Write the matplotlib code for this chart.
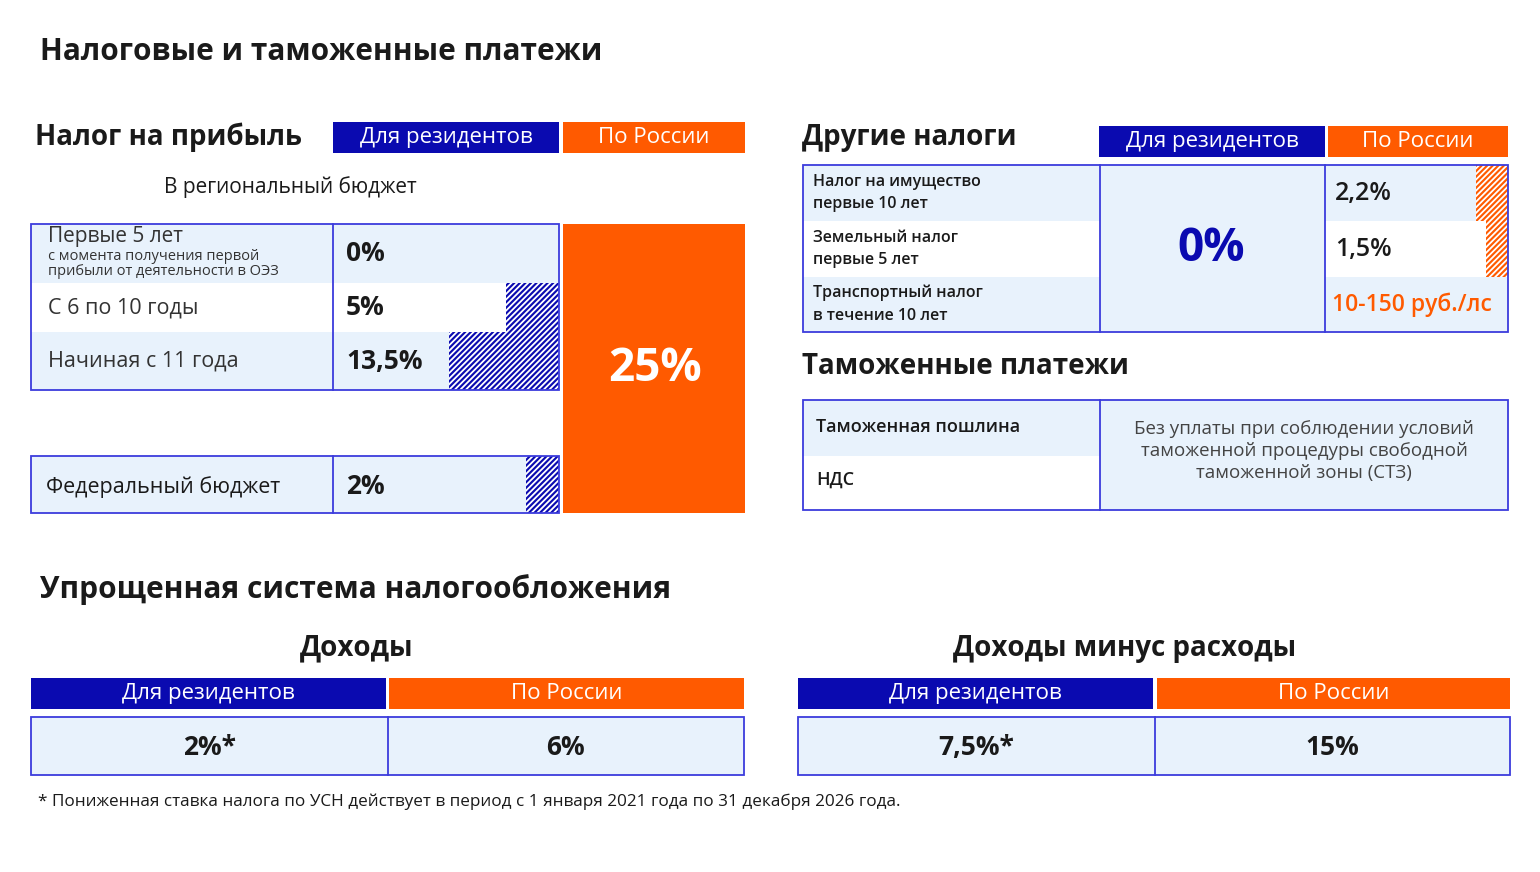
import matplotlib.pyplot as plt
from matplotlib.patches import Rectangle

plt.rcParams['font.family'] = 'Open Sans'
plt.rcParams['hatch.linewidth'] = 1.3

BLUE = '#0a0ab0'
ORANGE = '#ff5a00'
LIGHT = '#e8f2fc'
EDGE = '#3c3cdc'
DARK = '#1a1a1a'

# data
profit_rows = ['Первые 5 лет', 'С 6 по 10 годы', 'Начиная с 11 года']
profit_rates = [0.0, 5.0, 13.5]
profit_labels = ['0%', '5%', '13,5%']
federal_rate = 2.0
federal_label = '2%'
russia_profit = '25%'

other_taxes = ['Налог на имущество\nпервые 10 лет', 'Земельный налог\nпервые 5 лет',
               'Транспортный налог\nв течение 10 лет']
other_resident = '0%'
other_russia_rates = [2.2, 1.5, None]
other_russia_labels = ['2,2%', '1,5%', '10-150 руб./лс']

customs_items = ['Таможенная пошлина', 'НДС']
customs_text = 'Без уплаты при соблюдении условий\nтаможенной процедуры свободной\nтаможенной зоны (СТЗ)'

usn_titles = ['Доходы', 'Доходы минус расходы']
usn_title_x = [357, 1125]
usn_resident = ['2%*', '7,5%*']
usn_russia = ['6%', '15%']

fig = plt.figure(figsize=(15.4, 8.72), dpi=100)
ax = fig.add_axes([0, 0, 1, 1])
ax.set_xlim(0, 1540)
ax.set_ylim(872, 0)
ax.axis('off')


def rect(x0, y0, x1, y1, fc, ec='none', lw=0, hatch=None, z=1):
    ax.add_patch(Rectangle((x0, y0), x1 - x0, y1 - y0, facecolor=fc, edgecolor=ec,
                           linewidth=lw, hatch=hatch, zorder=z))


def frame(x0, y0, x1, y1, z=5):
    rect(x0, y0, x1, y1, 'none', EDGE, 1.3, z=z)


def header(x0, x1, y0, y1, text, fc, size=16):
    rect(x0, y0, x1, y1, fc)
    ax.text((x0 + x1) / 2, (y0 + y1) / 2, text, color='white', fontsize=size,
            ha='center', va='center', fontweight='medium')


ax.text(40, 52, 'Налоговые и таможенные платежи', fontsize=21.5, fontweight='bold',
        color=DARK, va='center')

# --- Налог на прибыль
ax.text(35, 137, 'Налог на прибыль', fontsize=20, fontweight='bold', color=DARK, va='center')
header(333, 559, 122, 153, 'Для резидентов', BLUE)
header(563, 745, 122, 153, 'По России', ORANGE)
ax.text(290, 187, 'В региональный бюджет', fontsize=15, color=DARK, ha='center', va='center')

row_y = [(224, 283), (283, 332), (332, 390)]
for i, (y0, y1) in enumerate(row_y):
    rect(31, y0, 559, y1, LIGHT if i != 1 else 'white')
    if profit_rates[i] > 0:
        w = 20 + 6.7 * profit_rates[i]
        rect(559 - w, y0, 559, y1, BLUE, 'white', 0, hatch='//////', z=2)
    ax.text(346, (y0 + y1) / 2, profit_labels[i], fontsize=19, fontweight='bold',
            color=DARK, va='center')
ax.text(48, 236, profit_rows[0], fontsize=15, color='#333333', va='center')
ax.text(48, 264, 'с момента получения первой\nприбыли от деятельности в ОЭЗ', fontsize=10.5,
        color='#333333', va='center', linespacing=1.0)
for i in (1, 2):
    ax.text(48, sum(row_y[i]) / 2, profit_rows[i], fontsize=15.5, color='#333333', va='center')
frame(31, 224, 559, 390)
ax.plot([333, 333], [224, 390], color=EDGE, lw=1.3, zorder=5)

rect(31, 456, 559, 513, LIGHT)
w = 20 + 6.7 * federal_rate
rect(559 - w, 456, 559, 513, BLUE, 'white', 0, hatch='//////', z=2)
ax.text(46, 487, 'Федеральный бюджет', fontsize=15.5, fontweight='medium', color=DARK, va='center')
ax.text(346, 486, federal_label, fontsize=19, fontweight='bold', color=DARK, va='center')
frame(31, 456, 559, 513)
ax.plot([333, 333], [456, 513], color=EDGE, lw=1.3, zorder=5)

rect(563, 224, 745, 513, ORANGE)
ax.text(655, 368, russia_profit, fontsize=33, fontweight='bold', color='white',
        ha='center', va='center')

# --- Другие налоги
ax.text(802, 137, 'Другие налоги', fontsize=20, fontweight='bold', color=DARK, va='center')
header(1099, 1325, 126, 157, 'Для резидентов', BLUE)
header(1328, 1508, 126, 157, 'По России', ORANGE)
orow = [(165, 221), (221, 277), (277, 332)]
for i, (y0, y1) in enumerate(orow):
    rect(803, y0, 1508, y1, LIGHT if i != 1 else 'white')
    ax.text(813, (y0 + y1) / 2, other_taxes[i], fontsize=11.5, fontweight='semibold',
            color=DARK, va='center', linespacing=1.55)
    r = other_russia_rates[i]
    if r is not None:
        rect(1508 - 14.5 * r, y0, 1508, y1, ORANGE, 'white', 0, hatch='//////', z=2)
        ax.text(1335, (y0 + y1) / 2, other_russia_labels[i], fontsize=18,
                fontweight='semibold', color=DARK, va='center')
    else:
        ax.text(1332, (y0 + y1) / 2, other_russia_labels[i], fontsize=16.5,
                fontweight='semibold', color=ORANGE, va='center')
rect(1100, 165, 1325, 332, LIGHT)
ax.text(1211, 248, other_resident, fontsize=33, fontweight='bold', color=BLUE,
        ha='center', va='center')
frame(803, 165, 1508, 332)
for x in (1100, 1325):
    ax.plot([x, x], [165, 332], color=EDGE, lw=1.3, zorder=5)

# --- Таможенные платежи
ax.text(802, 366, 'Таможенные платежи', fontsize=20, fontweight='bold', color=DARK, va='center')
rect(803, 400, 1100, 456, LIGHT)
rect(803, 456, 1100, 510, 'white')
rect(1100, 400, 1508, 510, LIGHT)
ax.text(816, 427, customs_items[0], fontsize=13, fontweight='semibold', color=DARK, va='center')
ax.text(816, 480, customs_items[1], fontsize=13, fontweight='semibold', color=DARK, va='center')
ax.text(1304, 451, customs_text, fontsize=13.5, color='#444444', ha='center', va='center',
        linespacing=1.3)
frame(803, 400, 1508, 510)
ax.plot([1100, 1100], [400, 510], color=EDGE, lw=1.3, zorder=5)

# --- УСН
ax.text(40, 590, 'Упрощенная система налогообложения', fontsize=21.5, fontweight='bold',
        color=DARK, va='center')
blocks = [(31, 386, 389, 744), (798, 1153, 1157, 1510)]
for k, (b0, b1, o0, o1) in enumerate(blocks):
    ax.text(usn_title_x[k], 648, usn_titles[k], fontsize=20, fontweight='bold', color=DARK,
            ha='center', va='center')
    header(b0, b1, 678, 709, 'Для резидентов', BLUE)
    header(o0, o1, 678, 709, 'По России', ORANGE)
    mid = (b1 + o0) / 2
    rect(b0, 717, o1, 775, LIGHT)
    frame(b0, 717, o1, 775)
    ax.plot([mid, mid], [717, 775], color=EDGE, lw=1.3, zorder=5)
    ax.text((b0 + mid) / 2, 747, usn_resident[k], fontsize=19, fontweight='bold', color=DARK,
            ha='center', va='center')
    ax.text((mid + o1) / 2, 747, usn_russia[k], fontsize=19, fontweight='bold', color=DARK,
            ha='center', va='center')

ax.text(38, 802, '* Пониженная ставка налога по УСН действует в период с 1 января 2021 года '
        'по 31 декабря 2026 года.', fontsize=12.3, fontweight='medium', color=DARK, va='center')

fig.savefig('out.png', dpi=100, facecolor='white')
